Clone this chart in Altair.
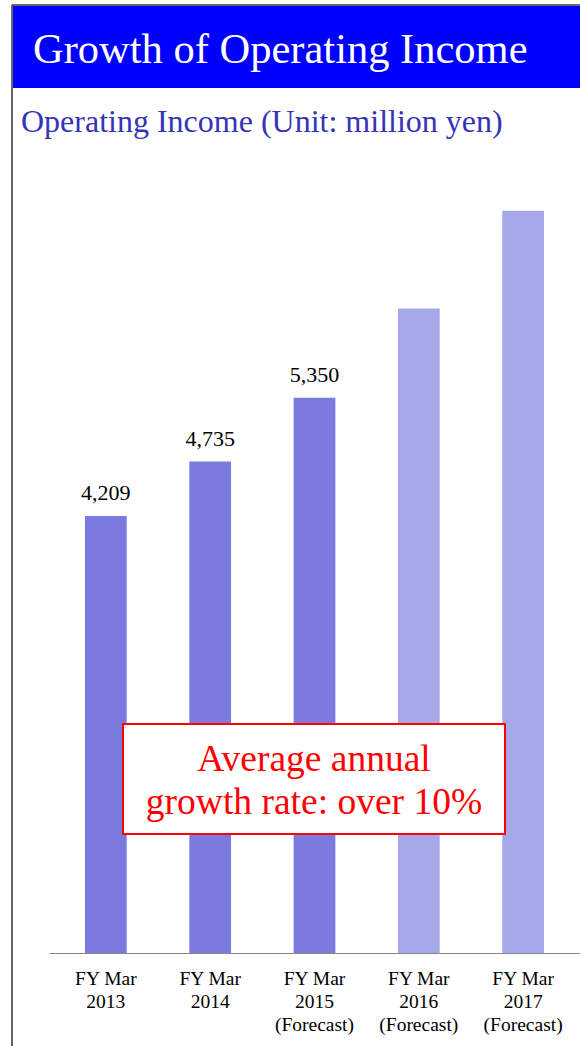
import altair as alt
import pandas as pd

categories = ["FY Mar\n2013", "FY Mar\n2014", "FY Mar\n2015\n(Forecast)",
              "FY Mar\n2016\n(Forecast)", "FY Mar\n2017\n(Forecast)"]
values = [4209, 4735, 5350, 6210, 7150]
value_labels = ["4,209", "4,735", "5,350", "", ""]
shade = ["dark", "dark", "dark", "light", "light"]

title_text = "Growth of Operating Income"
subtitle_text = "Operating Income (Unit: million yen)"
note_text = "Average annual\ngrowth rate: over 10%"

FONT = "Liberation Serif"

df = pd.DataFrame({"category": categories, "value": values,
                   "label": value_labels, "shade": shade})

x = alt.X("category:N", sort=categories,
          scale=alt.Scale(paddingInner=0.6, paddingOuter=0.345),
          axis=alt.Axis(title=None, labelAngle=0, ticks=False, tickSize=0,
                        labelExpr="split(datum.label, '\\n')",
                        domainColor="#888888", domainWidth=1,
                        labelFont=FONT, labelFontSize=19.5, labelColor="black",
                        labelLineHeight=23, labelPadding=16, grid=False))
y = alt.Y("value:Q", scale=alt.Scale(domain=[0, 7640], nice=False), axis=None)

base = alt.Chart(df).encode(x=x, y=y)
bars = base.mark_bar().encode(
    color=alt.Color("shade:N", scale=alt.Scale(domain=["dark", "light"],
                                               range=["#7B7BDF", "#A6A8E9"]),
                    legend=None))
labels = base.mark_text(baseline="alphabetic", dy=-16, font=FONT, fontSize=22,
                        color="black").encode(text="label:N")

deco = pd.DataFrame({"t": [title_text]})
border_left = alt.Chart(deco).mark_rule(color="#333333", strokeWidth=1.5).encode(
    x=alt.value(-37), y=alt.value(-155), y2=alt.value(886))
border_top = alt.Chart(deco).mark_rule(color="#333333", strokeWidth=1.5).encode(
    x=alt.value(-37), x2=alt.value(531), y=alt.value(-155))
banner = alt.Chart(deco).mark_rect(color="#0000FF").encode(
    x=alt.value(-36), x2=alt.value(531), y=alt.value(-154), y2=alt.value(-72))
title = alt.Chart(deco).mark_text(align="left", baseline="alphabetic", font=FONT,
                                  fontSize=42.5, color="white").encode(
    x=alt.value(-16), y=alt.value(-97), text="t:N")
sub = alt.Chart(pd.DataFrame({"t": [subtitle_text]})).mark_text(
    align="left", baseline="alphabetic", font=FONT, fontSize=32,
    color="#3434B8").encode(x=alt.value(-28), y=alt.value(-28), text="t:N")

note_box = alt.Chart(deco).mark_rect(fill="white", stroke="#FF0000",
                                     strokeWidth=2).encode(
    x=alt.value(74), x2=alt.value(456), y=alt.value(564), y2=alt.value(674))
note = alt.Chart(pd.DataFrame({"t": [note_text]})).mark_text(
    align="center", baseline="alphabetic", font=FONT, fontSize=37.5,
    color="#FF0000", lineBreak="\n", lineHeight=43).encode(
    x=alt.value(265), y=alt.value(611), text="t:N")

chart = alt.layer(bars, labels, banner, border_left, border_top, title, sub,
                  note_box, note).properties(
    width=531, height=793,
    autosize=alt.AutoSizeParams(type="none"),
    padding={"left": 49, "top": 160, "right": 0, "bottom": 93},
    background="white",
).configure_view(stroke=None)

chart.save("out.html", embed_options={"renderer": "svg", "actions": False})
